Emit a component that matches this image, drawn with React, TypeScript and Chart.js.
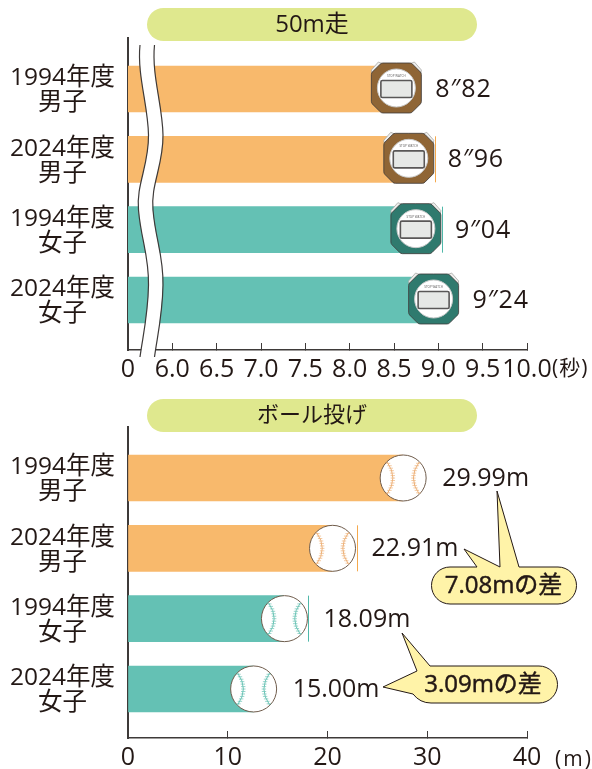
import React, { useEffect, useRef } from "react";
import { Chart, registerables } from "chart.js";

Chart.register(...registerables);

const categories = [
  ["1994年度", "男子"],
  ["2024年度", "男子"],
  ["1994年度", "女子"],
  ["2024年度", "女子"],
];
const runValues = [8.82, 8.96, 9.04, 9.24];
const runLabels = ["8″82", "8″96", "9″04", "9″24"];
const throwValues = [29.99, 22.91, 18.09, 15.0];
const throwLabels = ["29.99m", "22.91m", "18.09m", "15.00m"];
const endMarks = [false, true, true, false];
const runTitle = "50m走";
const throwTitle = "ボール投げ";
const runUnit = "(秒)";
const throwUnit = "(m)";
const diffBoys = "7.08mの差";
const diffGirls = "3.09mの差";

const FONT = '"Open Sans", "Noto Sans CJK JP", sans-serif';
const INK = "#231815";
const AXIS = "#3e3a39";
const ORANGE = "#f8b96c";
const TEAL = "#64c1b4";
const barColors = [ORANGE, ORANGE, TEAL, TEAL];
const lineColors = ["#f5a94d", "#f5a94d", "#4fb8a9", "#4fb8a9"];
const watchColors = ["#8f6535", "#8f6535", "#2f7a6e", "#2f7a6e"];
const seamColors = ["#eeb178", "#eeb178", "#6cc4b6", "#6cc4b6"];

function pill(ctx: CanvasRenderingContext2D, text: string, top: number, size: number) {
  ctx.save();
  ctx.fillStyle = "#dfe88e";
  ctx.beginPath();
  ctx.roundRect(147, top, 330, 33, 16.5);
  ctx.fill();
  ctx.fillStyle = INK;
  ctx.font = `${size}px ${FONT}`;
  ctx.textAlign = "center";
  ctx.textBaseline = "middle";
  ctx.fillText(text, 312, top + 17);
  ctx.restore();
}

function drawWatch(ctx: CanvasRenderingContext2D, cx: number, cy: number, color: string) {
  ctx.save();
  ctx.translate(cx, cy);
  // push buttons
  ctx.fillStyle = "#eeeeec";
  ctx.strokeStyle = "#a8a8a6";
  ctx.lineWidth = 0.8;
  for (const s of [-1, 1]) {
    ctx.beginPath();
    ctx.moveTo(s * 24.5, -15);
    ctx.lineTo(s * 25, -18);
    ctx.lineTo(s * 18, -26);
    ctx.lineTo(s * 14.5, -24.5);
    ctx.closePath();
    ctx.fill();
    ctx.stroke();
  }
  // octagon body
  const h = 25;
  const c = 10;
  const r = 4;
  const pts = [
    [-h + c, -h],
    [h - c, -h],
    [h, -h + c],
    [h, h - c],
    [h - c, h],
    [-h + c, h],
    [-h, h - c],
    [-h, -h + c],
  ];
  ctx.fillStyle = color;
  ctx.strokeStyle = "#3e3a39";
  ctx.lineWidth = 0.8;
  ctx.beginPath();
  ctx.moveTo(0, -h);
  for (let i = 1; i <= pts.length; i++) {
    const a = pts[i % pts.length];
    const b = pts[(i + 1) % pts.length];
    ctx.arcTo(a[0], a[1], b[0], b[1], r);
  }
  ctx.closePath();
  ctx.fill();
  ctx.stroke();
  // face
  ctx.fillStyle = "#ffffff";
  ctx.strokeStyle = "#c9caca";
  ctx.lineWidth = 1;
  ctx.beginPath();
  ctx.arc(0, 0, 19, 0, Math.PI * 2);
  ctx.fill();
  ctx.stroke();
  // display
  ctx.fillStyle = "#e6e8e6";
  ctx.strokeStyle = "#595757";
  ctx.lineWidth = 1.6;
  ctx.beginPath();
  ctx.roundRect(-15.5, -7.5, 31, 17, 1.5);
  ctx.fill();
  ctx.stroke();
  ctx.fillStyle = "#595757";
  ctx.font = `3px ${FONT}`;
  ctx.textAlign = "center";
  ctx.textBaseline = "middle";
  ctx.fillText("STOP WATCH", 0, -12);
  ctx.restore();
}

function drawBall(ctx: CanvasRenderingContext2D, cx: number, cy: number, seam: string) {
  ctx.save();
  ctx.translate(cx, cy);
  ctx.fillStyle = "#ffffff";
  ctx.strokeStyle = "#6f5c4c";
  ctx.lineWidth = 1;
  ctx.beginPath();
  ctx.arc(0, 0, 23, 0, Math.PI * 2);
  ctx.fill();
  ctx.stroke();
  ctx.strokeStyle = seam;
  for (const s of [-1, 1]) {
    ctx.lineWidth = 1;
    ctx.beginPath();
    ctx.moveTo(s * 16, -16);
    ctx.quadraticCurveTo(s * 4.5, 0, s * 16, 16);
    ctx.stroke();
    ctx.lineWidth = 0.7;
    for (let t = 0.04; t < 1; t += 0.077) {
      const x = s * ((1 - t) * (1 - t) * 16 + 2 * t * (1 - t) * 4.5 + t * t * 16);
      const y = (1 - t) * (1 - t) * -16 + t * t * 16;
      ctx.beginPath();
      ctx.moveTo(x - 2.2, y);
      ctx.lineTo(x + 2.2, y);
      ctx.stroke();
    }
  }
  ctx.restore();
}

function bubbleText(ctx: CanvasRenderingContext2D, text: string, x: number, y: number) {
  ctx.fillStyle = INK;
  ctx.strokeStyle = INK;
  ctx.lineWidth = 0.5;
  ctx.font = `24px ${FONT}`;
  ctx.textAlign = "center";
  ctx.textBaseline = "middle";
  ctx.fillText(text, x, y);
  ctx.strokeText(text, x, y);
}

function bubbleBoys(ctx: CanvasRenderingContext2D) {
  ctx.save();
  ctx.fillStyle = "#fff3a8";
  ctx.strokeStyle = INK;
  ctx.lineWidth = 1;
  ctx.lineJoin = "round";
  ctx.beginPath();
  ctx.moveTo(477, 567);
  ctx.lineTo(464, 549);
  ctx.lineTo(500, 567);
  ctx.lineTo(497, 491);
  ctx.lineTo(519, 567);
  ctx.lineTo(558, 567);
  ctx.arc(558, 585.5, 18.5, -Math.PI / 2, Math.PI / 2);
  ctx.lineTo(450, 604);
  ctx.arc(450, 585.5, 18.5, Math.PI / 2, -Math.PI / 2);
  ctx.closePath();
  ctx.fill();
  ctx.stroke();
  bubbleText(ctx, diffBoys, 503.5, 586);
  ctx.restore();
}

function bubbleGirls(ctx: CanvasRenderingContext2D) {
  ctx.save();
  ctx.fillStyle = "#fff3a8";
  ctx.strokeStyle = INK;
  ctx.lineWidth = 1;
  ctx.lineJoin = "round";
  ctx.beginPath();
  ctx.moveTo(430, 666);
  ctx.lineTo(402, 633);
  ctx.lineTo(417, 671);
  ctx.lineTo(383, 687);
  ctx.lineTo(413, 694);
  ctx.quadraticCurveTo(420, 703, 431, 703);
  ctx.lineTo(539, 703);
  ctx.arc(539, 684.5, 18.5, Math.PI / 2, -Math.PI / 2, true);
  ctx.closePath();
  ctx.fill();
  ctx.stroke();
  bubbleText(ctx, diffGirls, 483, 685);
  ctx.restore();
}

function drawBreak(ctx: CanvasRenderingContext2D) {
  const curve = (dx: number) => {
    ctx.moveTo(140 + dx, 45);
    ctx.bezierCurveTo(137 + dx, 75, 148 + dx, 105, 148.5 + dx, 135);
    ctx.bezierCurveTo(149 + dx, 165, 136 + dx, 185, 138.5 + dx, 210);
    ctx.bezierCurveTo(141 + dx, 240, 149 + dx, 255, 148.5 + dx, 285);
    ctx.bezierCurveTo(148 + dx, 315, 143 + dx, 335, 140 + dx, 357);
  };
  ctx.save();
  ctx.strokeStyle = "#ffffff";
  ctx.lineWidth = 14;
  ctx.beginPath();
  curve(7.2);
  ctx.stroke();
  ctx.strokeStyle = AXIS;
  ctx.lineWidth = 1.2;
  ctx.beginPath();
  curve(0);
  curve(14.5);
  ctx.stroke();
  ctx.restore();
}

function valueLabels(chart: any, labels: string[], values: number[], gap: number, spacing: string) {
  const ctx: CanvasRenderingContext2D = chart.ctx;
  ctx.save();
  ctx.fillStyle = INK;
  ctx.font = `25px ${FONT}`;
  (ctx as any).letterSpacing = spacing;
  ctx.textBaseline = "middle";
  ctx.textAlign = "left";
  values.forEach((v, i) => {
    ctx.fillText(labels[i], chart.scales.x.getPixelForValue(v) + gap, chart.scales.y.getPixelForValue(i) + 1);
  });
  ctx.restore();
}

function endLines(chart: any, values: number[]) {
  const ctx: CanvasRenderingContext2D = chart.ctx;
  ctx.save();
  ctx.lineWidth = 1;
  values.forEach((v, i) => {
    if (!endMarks[i]) return;
    const x = Math.round(chart.scales.x.getPixelForValue(v)) + 0.5;
    const y = chart.scales.y.getPixelForValue(i);
    ctx.strokeStyle = lineColors[i];
    ctx.beginPath();
    ctx.moveTo(x, y - 23);
    ctx.lineTo(x, y + 23);
    ctx.stroke();
  });
  ctx.restore();
}

function unitLabel(ctx: CanvasRenderingContext2D, text: string, x: number, y: number, spacing: string) {
  ctx.save();
  ctx.fillStyle = INK;
  ctx.font = `21px ${FONT}`;
  (ctx as any).letterSpacing = spacing;
  ctx.textBaseline = "middle";
  ctx.textAlign = "left";
  ctx.fillText(text, x, y);
  ctx.restore();
}

// the marker stands for the bar's tip: the part of the bar past its centre is not shown
function clearTip(ctx: CanvasRenderingContext2D, centre: number, end: number, y: number) {
  ctx.clearRect(centre, y - 24, end - centre + 2, 48);
}

const runPlugin = {
  id: "runDecor",
  afterDatasetsDraw(chart: any) {
    const ctx = chart.ctx;
    runValues.forEach((v, i) => {
      const x = chart.scales.x.getPixelForValue(v);
      const y = chart.scales.y.getPixelForValue(i);
      clearTip(ctx, x - 26, x, y);
      drawWatch(ctx, x - 26, y - 1, watchColors[i]);
    });
    endLines(chart, runValues);
  },
  afterDraw(chart: any) {
    const ctx = chart.ctx;
    drawBreak(ctx);
    pill(ctx, runTitle, 8, 24);
    valueLabels(chart, runLabels, runValues, 13, "0.8px");
    unitLabel(ctx, runUnit, 552, 369, "1px");
  },
};

const throwPlugin = {
  id: "throwDecor",
  afterDatasetsDraw(chart: any) {
    const ctx = chart.ctx;
    throwValues.forEach((v, i) => {
      const x = chart.scales.x.getPixelForValue(v);
      const y = chart.scales.y.getPixelForValue(i);
      clearTip(ctx, x - 24, x, y);
      drawBall(ctx, x - 24, y, seamColors[i]);
    });
    endLines(chart, throwValues);
  },
  afterDraw(chart: any) {
    const ctx = chart.ctx;
    pill(ctx, throwTitle, 399, 22);
    bubbleBoys(ctx);
    bubbleGirls(ctx);
    valueLabels(chart, throwLabels, throwValues, 15, "0px");
    unitLabel(ctx, throwUnit, 555, 760, "2px");
  },
};

function zeroPadding(s: any) {
  s.paddingTop = 0;
  s.paddingBottom = 0;
  s.paddingLeft = 0;
  s.paddingRight = 0;
}

function makeOptions(cfg: {
  top: number;
  bottom: number;
  xMin: number;
  xMax: number;
  step: number;
  yMax: number;
  tickText: (v: number) => string;
}) {
  return {
    animation: false,
    responsive: false,
    indexAxis: "y",
    layout: { autoPadding: false, padding: { top: cfg.top, left: 0, right: 65, bottom: 0 } },
    plugins: { legend: { display: false }, title: { display: false }, tooltip: { enabled: false } },
    scales: {
      x: {
        type: "linear",
        min: cfg.xMin,
        max: cfg.xMax,
        afterFit(s: any) {
          s.height = 769 - cfg.bottom;
          zeroPadding(s);
        },
        ticks: {
          stepSize: cfg.step,
          autoSkip: false,
          maxRotation: 0,
          minRotation: 0,
          padding: 12,
          color: INK,
          font: { family: FONT, size: 25 },
          callback: (v: number) => cfg.tickText(v),
        },
        grid: { drawOnChartArea: false, drawTicks: true, tickLength: -7, color: AXIS, lineWidth: 1 },
        border: { display: true, color: AXIS, width: 1.5 },
      },
      y: {
        type: "linear",
        reverse: true,
        offset: false,
        min: -0.725,
        max: cfg.yMax,
        afterFit(s: any) {
          s.width = 128;
          zeroPadding(s);
        },
        afterBuildTicks(s: any) {
          s.ticks = categories.map((_, i) => ({ value: i }));
        },
        ticks: {
          autoSkip: false,
          padding: 13,
          crossAlign: "center",
          labelOffset: 2,
          color: INK,
          font: { family: FONT, size: 24.5, lineHeight: 1.02 },
          callback: (v: number) => categories[v],
        },
        grid: { display: false, drawTicks: false, offset: false },
        border: { display: true, color: AXIS, width: 2 },
      },
    },
  } as any;
}

export default function App() {
  const runRef = useRef<HTMLCanvasElement>(null);
  const throwRef = useRef<HTMLCanvasElement>(null);

  useEffect(() => {
    const run = new Chart(runRef.current as HTMLCanvasElement, {
      type: "bar",
      data: {
        datasets: [
          {
            data: runValues.map((v, i) => ({ x: v, y: i })),
            backgroundColor: barColors,
            barThickness: 46,
          },
        ],
      },
      options: makeOptions({
        top: 38,
        bottom: 350,
        xMin: 5.5,
        xMax: 10,
        step: 0.5,
        yMax: 3.711,
        tickText: (v) => (v === 5.5 ? "0" : v.toFixed(1)),
      }),
      plugins: [runPlugin],
    } as any);
    const thr = new Chart(throwRef.current as HTMLCanvasElement, {
      type: "bar",
      data: {
        datasets: [
          {
            data: throwValues.map((v, i) => ({ x: v, y: i })),
            backgroundColor: barColors,
            barThickness: 46,
          },
        ],
      },
      options: makeOptions({
        top: 427,
        bottom: 738,
        xMin: 0,
        xMax: 40,
        step: 10,
        yMax: 3.697,
        tickText: (v) => String(v),
      }),
      plugins: [throwPlugin],
    } as any);
    return () => {
      run.destroy();
      thr.destroy();
    };
  }, []);

  const style: React.CSSProperties = { position: "absolute", left: 0, top: 0 };
  return (
    <div style={{ position: "absolute", left: 0, top: 0, width: 592, height: 769, overflow: "hidden", background: "#fff" }}>
      <canvas ref={runRef} width={592} height={769} style={style} />
      <canvas ref={throwRef} width={592} height={769} style={style} />
    </div>
  );
}
